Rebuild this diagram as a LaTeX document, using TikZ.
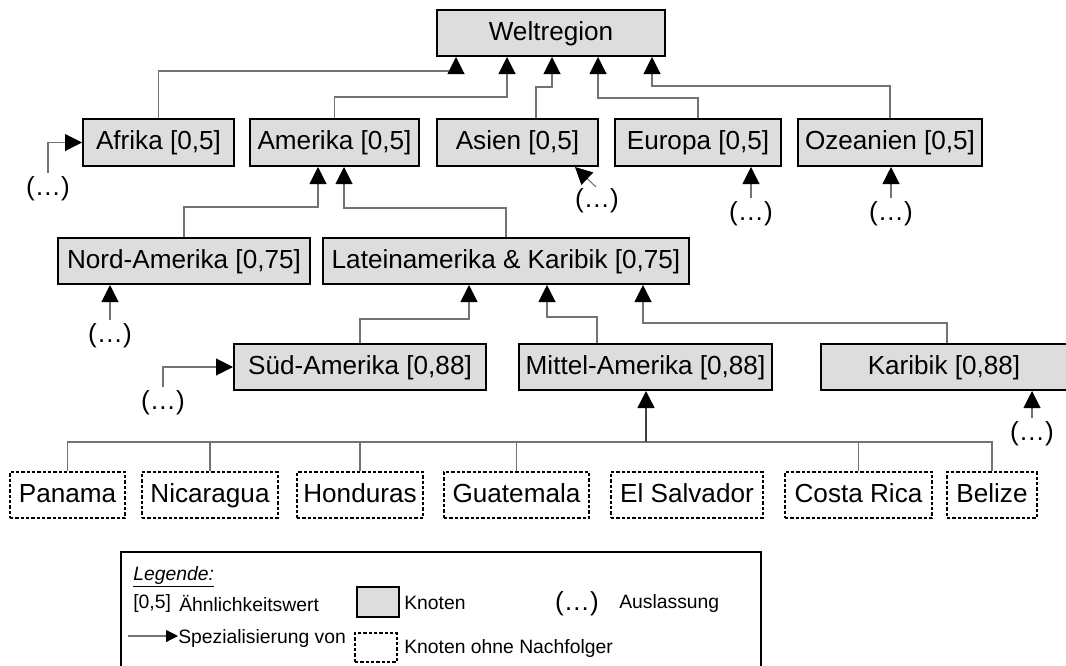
\documentclass[tikz,border=0pt]{standalone}
\usepackage{fontspec}
\setmainfont{Liberation Sans}
\usetikzlibrary{arrows.meta}
\definecolor{boxfill}{RGB}{221,221,221}
\definecolor{linegray}{RGB}{115,115,115}

\begin{document}
\begin{tikzpicture}[x=0.75pt,y=-0.75pt,
  sz/.style 2 args={minimum width=#1*0.75pt, minimum height=#2*0.75pt},
  mainfont/.style={font=\fontsize{19.6}{23}\selectfont, text height=14.2pt, text depth=3.6pt},
  box/.style={draw=black, line width=1.5pt, fill=boxfill, inner sep=0pt, mainfont},
  leaf/.style={draw=black, line width=1.5pt, dash pattern=on 2.4pt off 1.6pt, fill=white, inner sep=0pt, mainfont},
  conn/.style={draw=linegray, line width=0.8pt},
  spec/.style={conn, -{Triangle[length=12.75pt,width=12.75pt,color=black]}},
  trunk/.style={draw=black!75, line width=1.1pt, -{Triangle[length=12.75pt,width=12.75pt,color=black]}},
  omit/.style={inner sep=0pt, mainfont},
  legtext/.style={inner sep=0pt, anchor=west, font=\fontsize{14.5}{17}\selectfont}
]
\useasboundingbox (0,0) rectangle (1066,665);
\fill[white] (0,0) rectangle (1066,665);
\clip (0,0) rectangle (1066,665);

% root
\node[box, sz={228}{46}] (welt) at (551,33) {Weltregion};

% continents
\node[box, sz={151}{47}] (afrika)   at (158.5,142.5) {Afrika [0,5]};
\node[box, sz={169}{47}] (amerika)  at (334.5,142.5) {Amerika [0,5]};
\node[box, sz={161}{47}] (asien)    at (517.5,142.5) {Asien [0,5]};
\node[box, sz={166}{47}] (europa)   at (698,142.5)   {Europa [0,5]};
\node[box, sz={184}{47}] (ozeanien) at (890,142.5)   {Ozeanien [0,5]};

% sub-continents
\node[box, sz={252}{46}] (nord)   at (184,261) {Nord-Amerika [0,75]};
\node[box, sz={366}{46}] (latein) at (506,261) {Lateinamerika \& Karibik [0,75]};

% regions
\node[box, sz={252}{46}] (sued)    at (360,367)   {Süd-Amerika [0,88]};
\node[box, sz={253}{46}] (mittel)  at (645.5,367) {Mittel-Amerika [0,88]};
\node[box, sz={246}{46}] (karibik) at (944,367)   {Karibik [0,88]};

% countries
\node[leaf, sz={115}{46}] (panama)     at (67.5,495)  {Panama};
\node[leaf, sz={136}{46}] (nicaragua)  at (210,495)   {Nicaragua};
\node[leaf, sz={126}{46}] (honduras)   at (360,495)   {Honduras};
\node[leaf, sz={145}{46}] (guatemala)  at (516.5,495) {Guatemala};
\node[leaf, sz={152}{46}] (elsalvador) at (687,495)   {El Salvador};
\node[leaf, sz={147}{46}] (costarica)  at (858.5,495) {Costa Rica};
\node[leaf, sz={90}{46}]  (belize)     at (992,495)   {Belize};

% continents -> root
\draw[spec] (afrika.north) |- (456,71) -- (456,0 |- welt.south);
\draw[spec] (amerika.north) |- (507,97) -- (507,0 |- welt.south);
\draw[spec] (536,0 |- asien.north) |- (552,87) -- (552,0 |- welt.south);
\draw[spec] (europa.north) |- (598,98) -- (598,0 |- welt.south);
\draw[spec] (ozeanien.north) |- (652,86) -- (652,0 |- welt.south);

% sub-continents -> Amerika
\draw[spec] (nord.north) |- (318,207) -- (318,0 |- amerika.south);
\draw[spec] (latein.north) |- (344,208) -- (344,0 |- amerika.south);

% regions -> Lateinamerika & Karibik
\draw[spec] (sued.north) |- (469,319) -- (469,0 |- latein.south);
\draw[spec] (597,0 |- mittel.north) |- (547,317) -- (547,0 |- latein.south);
\draw[spec] (947,0 |- karibik.north) |- (643,323) -- (643,0 |- latein.south);

% countries -> Mittel-Amerika
\coordinate (bus) at (646,442);
\foreach \c in {panama,nicaragua,honduras,guatemala,costarica,belize}
  \draw[conn] (\c.north) |- (bus);
\draw[trunk] (bus) -- (646,0 |- mittel.south);

% omissions
\node[omit] (o1) at (48,188)   {(…)};
\node[omit] (o2) at (597,200)  {(…)};
\node[omit] (o3) at (751,213)  {(…)};
\node[omit] (o4) at (891,213)  {(…)};
\node[omit] (o5) at (110,335)  {(…)};
\node[omit] (o6) at (163,402)  {(…)};
\node[omit] (o7) at (1032,433) {(…)};

\draw[spec, shorten <=2pt] (o1.north) |- (afrika.west);
\draw[spec, shorten <=1pt] (o2.north) -- (575,0 |- asien.south);
\draw[spec, shorten <=2pt] (o3.north) -- (o3.north |- europa.south);
\draw[spec, shorten <=2pt] (o4.north) -- (o4.north |- ozeanien.south);
\draw[spec, shorten <=2pt] (o5.north) -- (o5.north |- nord.south);
\draw[spec, shorten <=2pt] (o6.north) |- (sued.west);
\draw[spec, shorten <=2pt] (o7.north) -- (o7.north |- karibik.south);

% legend
\draw[black, line width=1.1pt] (121,670) -- (121,552) -- (761,552) -- (761,670);
\node[legtext] (lgtitle) at (133,577) {\underline{\textit{Legende:}}};
\node[legtext] (lgval)   at (133,603) {[0,5]};
\node[legtext] (lgsim)   at (179,603) {Ähnlichkeitswert};
\node[box, sz={42}{30}] (lgbox) at (378,602) {};
\node[legtext] (lgknot)  at (404,603) {Knoten};
\node[omit] (lgomit) at (577,603) {(…)};
\node[legtext] (lgausl)  at (619,603) {Auslassung};
\coordinate (lgarrs) at (128,636);
\node[legtext] (lgspec)  at (178,638) {Spezialisierung von};
\draw[conn, -{Triangle[length=9pt,width=9pt,color=black]}] (lgarrs) -- (lgspec.west |- lgarrs);
\node[leaf, sz={42}{29}] (lgleaf) at (376,647.5) {};
\node[legtext] (lgleaft) at (404,648) {Knoten ohne Nachfolger};
\end{tikzpicture}
\end{document}
